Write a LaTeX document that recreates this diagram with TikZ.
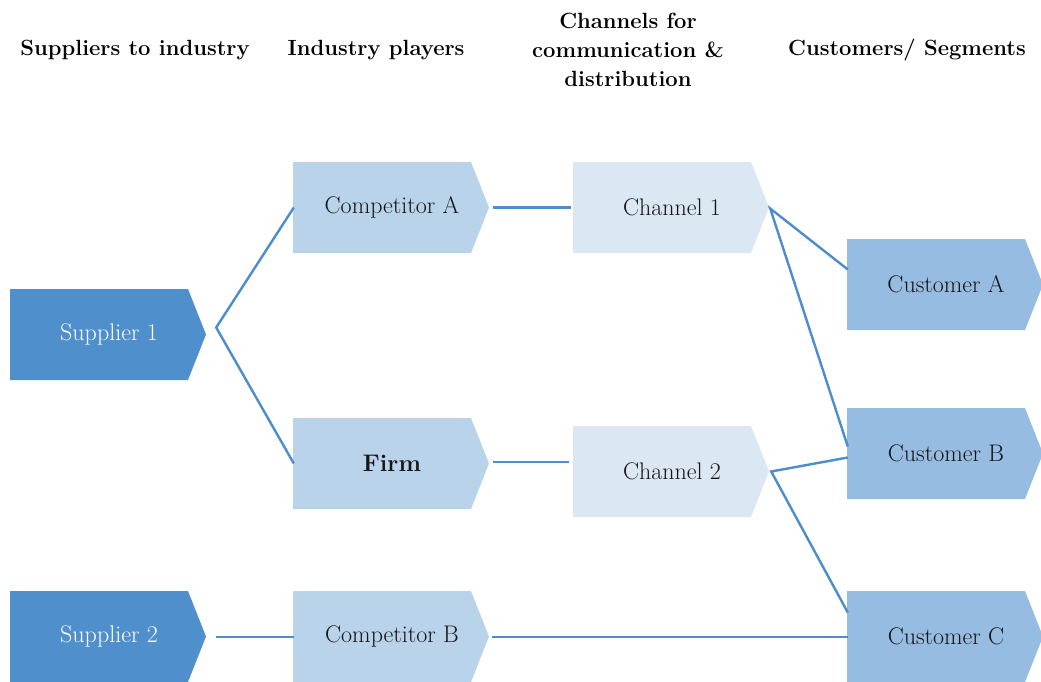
\documentclass[tikz,border=0pt]{standalone}
\usetikzlibrary{calc}
\definecolor{supc}{HTML}{4F8FCC}
\definecolor{compc}{HTML}{B8D3EA}
\definecolor{chanc}{HTML}{DCE7F4}
\definecolor{custc}{HTML}{96BCE1}
\definecolor{linec}{HTML}{4D8DCB}
\definecolor{txtc}{HTML}{141414}
\tikzset{
  lbl/.style={inner sep=0pt, minimum width=196pt, minimum height=91pt, text=txtc, font=\fontsize{24}{28}\selectfont},
  head/.style={font=\bfseries\fontsize{22}{29}\selectfont, align=center, text=black},
  conn/.style={draw=linec, line width=2.4pt}
}
% name, left x, top y, colour, text, text colour
\newcommand\chevbox[6]{%
  \fill[#4] (#2,#3) -- ++(178,0) -- ++(18,45.5) -- ++(-18,45.5) -- ++(-178,0) -- cycle;
  \node[lbl, text=#6] (#1) at (#2+99,#3+45.5) {#5};
}
\begin{document}
\begin{tikzpicture}[x=1pt,y=-1pt]
\useasboundingbox (0,0) rectangle (1041,682);
\begin{scope}
\clip (0,0) rectangle (1041,682);
% headers
\node[head] (h1) at (135,50) {Suppliers to industry};
\node[head] (h2) at (376,50) {Industry players};
\node[head] (h3) at (628,50) {Channels for\\communication \&\\distribution};
\node[head] (h4) at (907,50) {Customers/ Segments};
% boxes
\chevbox{s1}{10}{289}{supc}{Supplier 1}{white}
\chevbox{s2}{10}{591}{supc}{Supplier 2}{white}
\chevbox{ca}{293}{162}{compc}{Competitor A}{txtc}
\chevbox{fi}{293}{418}{compc}{\textbf{Firm}}{txtc}
\chevbox{cb}{293}{591}{compc}{Competitor B}{txtc}
\chevbox{ch1}{573}{162}{chanc}{Channel 1}{txtc}
\chevbox{ch2}{573}{426}{chanc}{Channel 2}{txtc}
\chevbox{cua}{847}{239}{custc}{Customer A}{txtc}
\chevbox{cub}{847}{408}{custc}{Customer B}{txtc}
\chevbox{cuc}{847}{591}{custc}{Customer C}{txtc}
% junction points
\coordinate (j1) at ($(s1.east)+(9,-7)$);
\coordinate (j2) at ($(ch1.east)+(0,1)$);
\coordinate (j3) at ($(ch2.east)+(1,0)$);
% connectors
\draw[conn] (ca.west) -- (j1) -- (fi.west);
\draw[conn] ($(ca.east)+(3,0)$) -- ($(ch1.west)+(-3,0)$);
\draw[conn] ($(fi.east)+(3,-1.5)$) -- ($(ch2.west)+(-5,-9.5)$);
\draw[conn] ($(cua.west)+(0,-15)$) -- (j2) -- ($(cub.west)+(0,-7)$);
\draw[conn] ($(cub.west)+(0,4)$) -- (j3) -- ($(cuc.west)+(0,-24)$);
\draw[conn] ($(s2.east)+(9,0.5)$) -- ($(cb.west)+(0,0.5)$);
\draw[conn] ($(cb.east)+(2,0.5)$) -- ($(cuc.west)+(0,0.5)$);
\end{scope}
\end{tikzpicture}
\end{document}
